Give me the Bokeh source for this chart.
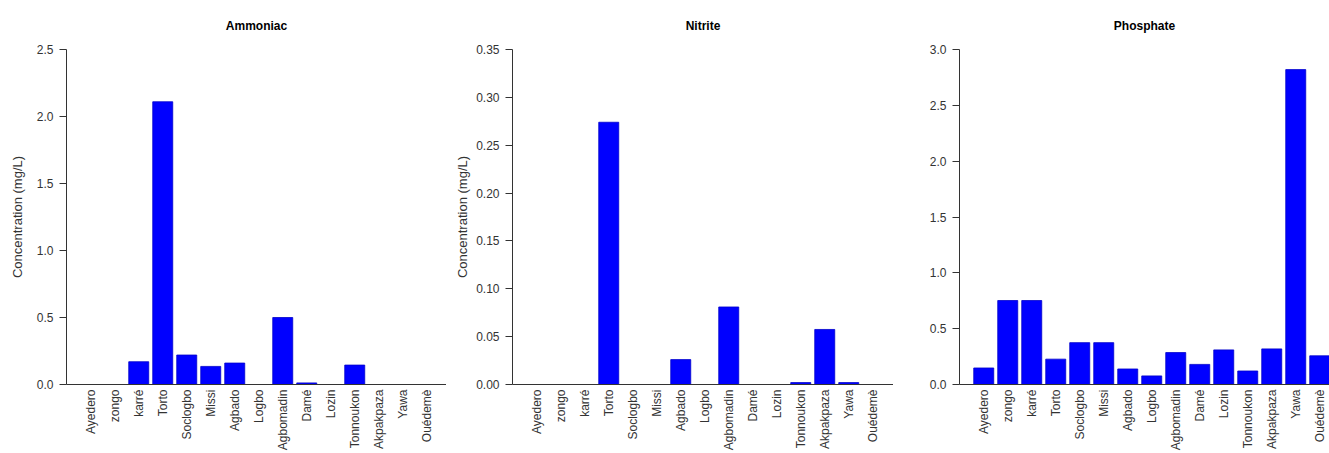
import math
from bokeh.plotting import figure
from bokeh.layouts import row
from bokeh.models import FixedTicker, Range1d, NumeralTickFormatter, ColumnDataSource, Title
from bokeh.embed import file_html
from bokeh.resources import INLINE

# ---- data ----
sites = ["Ayedero", "zongo", "karré", "Torto", "Soclogbo", "Missi", "Agbado", "Logbo",
         "Agbomadin", "Damé", "Lozin", "Tonnoukon", "Akpakpaza", "Yawa", "Ouédemè"]
ammoniac = [0.0, 0.0, 0.17, 2.11, 0.22, 0.135, 0.16, 0.0, 0.50, 0.012, 0.0, 0.145, 0.0, 0.0, 0.0]
nitrite = [0.0, 0.0, 0.0, 0.274, 0.0, 0.0, 0.026, 0.0, 0.081, 0.0, 0.0, 0.002, 0.0575, 0.002, 0.0]
phosphate = [0.148, 0.752, 0.752, 0.227, 0.375, 0.375, 0.139, 0.077, 0.286, 0.18, 0.31, 0.121,
             0.319, 2.82, 0.257]
titles = ["Ammoniac", "Nitrite", "Phosphate"]
ylabel = "Concentration (mg/L)"
y_ticks_ammoniac = [0.0, 0.5, 1.0, 1.5, 2.0, 2.5]
y_ticks_nitrite = [0.0, 0.05, 0.10, 0.15, 0.20, 0.25, 0.30, 0.35]
y_ticks_phosphate = [0.0, 0.5, 1.0, 1.5, 2.0, 2.5, 3.0]

FONT = "Liberation Sans"
TXT = "#333333"
PITCH = 1.2
XSTART = -0.512
PX_PER_UNIT = 20.0
LEFT = 66


def make_panel(title, values, ticks, fmt, fig_width, show_ylab, ylab_standoff):
    frame_w = fig_width - LEFT
    xs = [0.7 + i * PITCH for i in range(len(sites))]
    src = ColumnDataSource(dict(x=xs, top=values))
    p = figure(width=fig_width, height=453, output_backend="svg", toolbar_location=None,
               x_range=Range1d(XSTART, XSTART + frame_w / PX_PER_UNIT),
               y_range=Range1d(0, ticks[-1]),
               min_border_left=LEFT, min_border_right=0, min_border_top=49,
               min_border_bottom=10)
    p.vbar(x="x", top="top", bottom=0, width=1.0, source=src,
           fill_color="#0000FF", line_color="#0000CC", line_width=0.8)
    p.outline_line_color = None
    p.xgrid.visible = False
    p.ygrid.visible = False
    p.background_fill_color = "white"
    p.border_fill_color = "white"

    p.title.text = title
    p.title.align = "center"
    p.title.text_font = FONT
    p.title.text_font_size = "12px"
    p.title.text_font_style = "bold"
    p.title.text_color = "black"
    # empty spacer between title and frame
    p.add_layout(Title(text=" ", text_font_size="9px", standoff=0), "above")

    xa = p.xaxis[0]
    xa.ticker = FixedTicker(ticks=xs)
    xa.major_label_overrides = {x: s for x, s in zip(xs, sites)}
    xa.major_label_orientation = math.pi / 2
    xa.major_tick_line_color = None
    xa.minor_tick_line_color = None
    xa.major_tick_out = 0
    xa.major_label_standoff = 5
    xa.major_label_text_font = FONT
    xa.major_label_text_font_size = "12px"
    xa.major_label_text_color = TXT
    xa.axis_line_color = TXT

    ya = p.yaxis[0]
    ya.ticker = FixedTicker(ticks=ticks)
    ya.formatter = NumeralTickFormatter(format=fmt)
    ya.minor_tick_line_color = None
    ya.major_tick_out = 7
    ya.major_tick_in = 0
    ya.major_tick_line_color = TXT
    ya.axis_line_color = TXT
    ya.major_label_standoff = 6
    ya.major_label_text_font = FONT
    ya.major_label_text_font_size = "12px"
    ya.major_label_text_color = TXT
    if show_ylab:
        ya.axis_label = ylabel
        ya.axis_label_text_font = FONT
        ya.axis_label_text_font_size = "13px"
        ya.axis_label_text_font_style = "normal"
        ya.axis_label_text_color = TXT
        ya.axis_label_standoff = ylab_standoff
    return p


p1 = make_panel(titles[0], ammoniac, y_ticks_ammoniac, "0.0", 446, True, 9)
p2 = make_panel(titles[1], nitrite, y_ticks_nitrite, "0.00", 447, True, 3)
p3 = make_panel(titles[2], phosphate, y_ticks_phosphate, "0.0", 436, False, 0)

layout = row(p1, p2, p3)
open("out.html", "w").write(file_html(layout, INLINE))
